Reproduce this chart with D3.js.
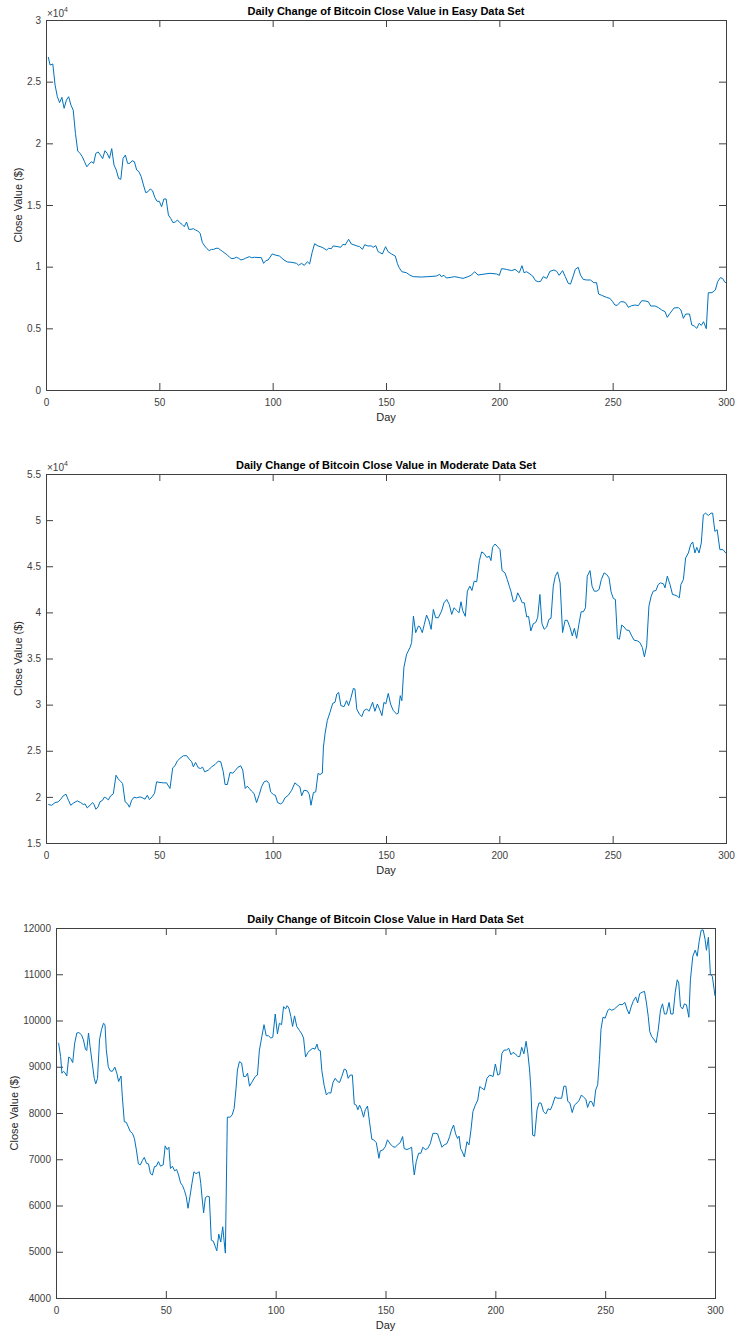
<!DOCTYPE html>
<html lang="en">
<head>
<meta charset="UTF-8">
<title>Daily Change of Bitcoin Close Value</title>
<script src="https://d3js.org/d3.v7.min.js"></script>
<style>
  body { margin: 0; background: #fff; }
  svg text { font-family: "Liberation Sans", Arial, Helvetica, sans-serif; }
  .tick text { fill: #404040; font-size: 10px; }
  .tick line { stroke: #404040; }
  .domain { stroke: none; }
</style>
</head>
<body>
<svg id="chart" width="735" height="1331"></svg>
<script>
// values (day, close value in $)
const dayTicks = [0, 50, 100, 150, 200, 250, 300];

const easyDay = [1,1.8,3,4,5,6,7,8,9,10,11,12,13,14,15,16,17,18,19,20,21,22,23,24,25,26,27,28,29,30,
  31,32,33,34,35,36,37,38,39,40,41,42,43,44,45,46,47,48,49,50,51,52,53,54,55,56,57,58,59,60,
  61,62,63,64,65,66,67,68,69,70,71,72,73,74,75,76,77,78,79,80,81,82,83,84,85,86,87,88,89.7,90.7,
  92,95,96,97,98,99.8,101,103,105,106.5,108.5,110.5,111.5,112.7,114,115.3,116.3,117.4,118.5,120,
  121.8,123.8,124.7,125.9,126.7,128.8,130,131,132,133.5,134.7,136.9,138.4,139.6,140.6,142,143.5,144.3,145.5,146.5,
  147.2,148.4,149.8,150.9,152.4,154.1,155,155.8,157,159,160.5,162,165.6,168.5,172.2,173.7,174.4,175.6,176.6,178.8,
  180.3,182.5,184,186.2,187.7,189.1,190.6,193.7,195.9,198.8,200,201,203.2,205.4,206.9,208.8,210,210.9,212,213.5,
  214.7,216,217.2,218.2,219.4,220.9,222.3,224.1,225.3,226.4,227.9,229.1,230.4,231.4,232.6,233.5,234.8,235.8,237,238.5,
  240.2,241.7,242.9,243.8,245.1,247.3,248.8,250,251,252,253.5,255,255.9,256.9,258.4,259.9,261.3,262.8,264.3,265.7,
  266.8,268.7,270.2,271.6,273.1,274.1,275.3,277.1,279,280.1,281.2,282.2,283.9,284.9,286,287.1,288.2,289.1,290.1,291.3,
  292.2,293.8,295.3,296.3,297.5,298.5,299.4,300];
const easyClose = [27000,26350,26430,24730,23780,23300,23730,22840,23510,23780,23100,22700,20800,19380,19190,18920,18510,18100,18320,18510,
  18380,19190,19300,19050,18760,19400,19190,18780,19570,18240,17840,17160,17080,18780,19050,18380,18380,18590,18510,17840,
  17700,17300,16620,16000,16080,16300,16160,15620,15300,15300,14860,15490,15490,14190,13920,13570,13620,13780,13570,13430,
  13240,13620,13030,13030,13080,12970,12890,12700,11950,11680,11460,11300,11400,11400,11490,11490,11350,11220,11080,10950,
  10760,10650,10680,10760,10680,10540,10590,10680,10810,10730,
  10760,10730,10270,10490,10540,11030,10950,10860,10540,10380,10350,10270,10110,10270,10110,10400,10220,11140,11860,11680,
  11570,11350,11490,11460,11680,11620,11570,11810,11760,12220,11840,11700,11620,11410,11780,11680,11680,11570,11700,11220,
  11160,11030,11620,11220,11030,10860,10270,9920,9590,9510,9320,9190,9160,9190,9240,9380,9190,9300,9080,9140,
  9190,9110,9050,9190,9320,9590,9320,9410,9460,9410,9300,9840,9780,9680,9780,9510,10080,9510,9590,9410,
  9240,8860,8780,8810,9190,9050,9620,9730,9620,9300,9680,9190,8650,8590,9240,9780,9950,9320,8970,8920,
  8920,8700,8700,7780,7680,7510,7430,7160,6890,6860,7160,7140,7030,6700,6840,6890,6840,7240,7220,7160,
  6810,6810,6680,6490,6350,5890,6220,6650,6680,6490,5810,6160,6160,5270,5190,5000,5410,5240,5540,4970,
  7890,7890,8110,8780,9110,9050,8760,8700];

const moderateDay = [1,2.5,4,5.4,6.5,7.6,8.8,9.9,10.9,12,13.8,15.3,16.5,17.2,18.2,19.4,20.6,21.2,22,23,
  23.8,25,25.7,26.5,27.5,28.5,29.7,30.9,31.9,32.9,33.8,34.9,35.9,36.8,37.8,38.8,40,41.5,42.6,43.7,
  44.7,45.6,46.8,47.9,48.8,50.3,51.8,53.2,54.7,55.9,56.9,57.9,59.1,60.6,62.1,63.2,64.3,65,66,67.2,
  68.2,69.1,70,71.6,73.1,74.6,76,77.1,78.2,79,80,81.2,82.4,83.5,84.7,85.9,86.8,87.9,88.8,89.7,
  90.7,91.8,92.9,94.1,95.1,96.2,97.4,98.4,99.1,100.3,101.2,102.2,103.5,104.4,105.4,106.9,108.4,109.8,111,112,
  112.8,113.8,115.3,116.2,116.9,118,119,120,120.9,121.9,122.4,123.1,124.1,125.3,126.5,127.5,128.3,129.1,130.1,131.5,
  132.6,133.5,134.6,135.6,136.3,137.1,138.2,139.3,140.3,141.5,142.5,143.2,144.1,145.1,146.2,147.4,148.2,149.1,149.9,151,
  152,153.2,154.7,155.4,156.3,157,157.9,159.1,160.6,161.3,162.1,163.1,164.3,165,166,166.9,167.9,169,169.9,170.9,
  171.9,173.1,174.5,175.6,176.8,177.9,179,180,181.2,182.2,183.1,183.8,185,185.9,187,187.9,188.9,190,191.2,192.2,
  193.2,194.4,195.6,196.3,197,198.1,199.1,200.3,201.2,202.5,203.5,204.4,205.1,206.2,207.2,208.1,209.1,210.1,211,212.1,
  212.9,213.9,215,216,216.9,217.9,218.8,219.8,220.9,221.9,222.8,223.8,224.7,225.7,226.8,227.9,229,230,231.2,232.2,
  233.1,234.1,235.1,236.1,237.1,238,238.8,240,240.9,241.9,243,244,245,246.2,247.4,248.4,249.3,250.3,251.2,252.1,
  253,254,255,256.2,257.2,258.4,259.5,260.9,262,263.1,264,265,266,267,267.9,269.1,270.1,271.1,272.4,273.1,
  274.1,275.3,276.4,277.5,278.5,279.4,280.1,281.2,282.2,283.4,284.4,285.3,286.3,287.1,288.1,289.1,290,291,292.2,293.4,
  294.1,295.1,296.1,297.3,298.7,300];
const moderateClose = [19170,19090,19380,19460,19750,20110,20290,19640,19090,19310,19570,19380,19170,19240,18800,19090,19380,19170,18660,18910,
  19460,19640,19960,19890,19670,20110,20330,22350,21920,21700,21450,19460,19280,18880,19640,19960,19890,20000,19890,19750,
  20180,19710,20000,20400,21630,21560,21520,21520,20910,23150,23370,23880,24170,24460,24460,24090,23800,23260,23730,23150,
  23080,23220,22720,22900,23260,23510,23880,23800,22720,21340,21340,22650,22570,22860,23220,23370,22900,20910,21160,20910,
  20620,20360,19380,20250,21090,21630,21740,21450,20540,20250,20180,19380,19240,19380,19890,20180,20720,21520,21270,21090,
  20110,20720,20650,20250,19090,20470,20540,22540,22430,22570,25400,26830,28270,29170,30140,30250,31150,31330,29890,29780,
  30430,29890,30790,31760,31690,29530,28990,28700,29350,29530,29280,29710,30250,29280,30070,29350,28810,30250,30070,31220,
  30070,29350,28990,29060,30970,30430,34030,35470,36190,36730,39600,37800,38520,38420,37800,38700,39710,39060,38160,40320,
  39420,39420,40140,41040,41400,40860,39780,40500,40210,39960,41150,40210,39570,42300,42840,42370,43380,43310,45610,46550,
  46400,45970,46080,45610,47050,47410,47160,46800,44530,44280,43560,42840,42300,41150,41300,42120,41650,41040,41040,39500,
  39570,37990,38780,38890,39420,41940,38780,38170,38420,39250,39350,42840,43920,44390,43200,37810,39140,39140,38350,37450,
  38270,37190,38710,40070,40070,40500,43920,44530,42840,42300,42300,42480,43560,44280,44100,43740,42230,41510,41400,37190,
  37090,38630,38420,38060,38060,37450,36980,36910,36730,36190,35180,36370,40680,41760,42300,42370,43020,43200,43090,42660,
  43920,43020,41940,41870,41760,41580,43020,43560,45900,46440,47340,47630,46440,47050,46440,47520,50580,50760,50500,50760,
  50760,48780,48960,46800,46800,46400];

const hardDay = [1,1.2,2.1,2.7,3.4,4.1,4.9,5.8,6.7,7.6,8.5,9.5,10.4,11.6,12.5,13.4,14,14.8,15.5,16.5,
  17.4,18.1,18.9,19.8,20.7,21.6,22.3,22.9,23.8,24.7,25.6,26.8,27.7,28.5,29.6,30.2,31.1,32,32.9,33.8,
  34.8,35.7,36.6,37.5,38.4,39.3,40.2,41.2,42.1,43,43.9,44.8,45.7,46.6,47.6,48.8,49.7,50.6,51.4,52.1,
  53,54,54.9,55.8,56.7,57.6,58.5,59.3,60.1,61,61.9,62.8,63.7,64.6,65.2,65.9,66.6,67.2,68,68.9,
  69.8,70.7,71.6,72.6,73.2,74.1,75,75.9,76.5,77.1,78,79.3,80.2,81.1,81.9,82.6,83.5,84.5,85.4,86.4,
  87.2,88.1,89.1,90.7,91.7,92.6,93.7,94.7,95.7,96.7,97.8,98.7,99.8,100.8,101.7,102.7,103.6,104.5,105.2,106,
  106.9,107.7,108.6,109.6,110.9,111.9,112.7,113.6,114.7,115.7,116.9,117.9,118.8,119.5,120.3,121,122.1,123.1,124.1,125.1,
  126.1,127.1,128.2,129.1,130.1,131.2,132.1,133,133.9,134.9,135.8,136.7,137.4,138.2,139.1,140,140.8,141.8,142.8,143.8,
  144.6,145.8,146.4,147,147.6,148.8,149.9,150.9,152.2,153.4,154.4,155.5,156.7,157.8,158.5,159.8,160.8,161.9,162.5,163.1,
  164,165.1,166.1,167,168.1,169.2,170.4,171.6,172.7,173.7,174.6,175.7,176.7,178,179.2,180,181,181.9,182.8,183.5,
  184.2,185,185.9,187.1,188,188.9,189.8,190.9,192,192.9,193.8,195,196.2,197.4,199,200,201.1,202,203,204,
  205,206.1,207.1,208,209.1,210.2,211.1,212,213,214,214.8,215.6,216.2,217,217.9,219,219.9,220.9,221.9,223,
  224,225.1,226,227.2,228.1,229.3,230.2,231.2,232.1,233,233.9,235,236,237.2,238.1,239.2,240.2,241.2,242,243,
  243.8,244.8,245.7,246.6,247.4,248.1,249,250,251.2,252.1,253,254.2,255.4,256.6,257.7,259,259.9,260.9,261.8,262.7,
  263.9,264.8,265.7,266.8,267.9,268.8,269.6,270.3,271.2,272.1,273.2,274.1,275.2,276.1,277,277.9,279.1,279.9,280.9,281.9,
  282.8,283.5,284.3,285.2,286.1,287,288.1,288.8,289.9,291,291.9,292.8,293.7,294.6,295.5,296.1,297,297.9,298.8,300];
const hardClose = [9520,9510,9220,8860,8900,8870,8800,9210,9180,9090,9510,9730,9740,9690,9580,9380,9350,9730,9440,9080,
  8750,8630,8750,9580,9800,9940,9910,9370,9000,8910,8900,8990,8860,8680,8800,8350,7810,7800,7700,7600,
  7560,7450,7200,6900,6880,6970,7040,6910,6900,6690,6660,6840,6850,6950,6850,6880,7290,7210,7260,6800,
  6850,6750,6780,6660,6490,6430,6320,6190,5940,6200,6480,6730,6690,6710,6730,6480,6120,5840,6170,6200,
  6190,5250,5230,5100,5020,5380,5210,5540,5250,4970,7910,7910,7960,8100,8500,8930,9110,9080,8790,8790,
  8860,8580,8660,8790,8820,9360,9650,9910,9670,9670,9620,9640,10140,9710,9940,9910,10300,10250,10320,10270,
  10090,9870,10100,9870,9780,9710,9620,9210,9310,9360,9400,9380,9490,9360,9350,8920,8590,8390,8440,8430,
  8660,8750,8680,8660,8790,8950,8930,8750,8820,8820,8190,8170,8070,8170,8070,7910,8070,8150,7780,7430,
  7420,7360,7200,7020,7180,7200,7270,7420,7330,7270,7260,7310,7360,7490,7230,7210,7230,7260,6910,6660,
  6950,7130,7130,7260,7210,7230,7340,7560,7560,7550,7420,7260,7310,7340,7490,7630,7740,7550,7450,7500,
  7230,7160,7050,7380,7310,7630,8030,8170,8280,8570,8540,8500,8750,8820,8790,9060,8820,8840,9290,9360,
  9360,9400,9260,9310,9280,9220,9220,9420,9280,9550,9290,8930,8500,7520,7500,8070,8220,8210,8030,7980,
  8090,8070,8170,8350,8320,8320,8320,8580,8580,8250,8220,8010,8170,8220,8270,8390,8340,8300,8120,8250,
  8250,8140,8500,8610,9160,9810,10070,10050,10220,10250,10220,10250,10300,10350,10340,10390,10250,10140,10290,10410,
  10510,10380,10580,10610,10630,10380,10090,9760,9650,9600,9520,9780,10230,10360,10140,10140,10390,10140,10140,10610,
  10880,10810,10300,10250,10360,10340,10070,10880,11390,11520,11390,11710,11950,11960,11750,11520,11800,11010,10950,10530];

const easyTicks = [0, 5000, 10000, 15000, 20000, 25000, 30000];
const moderateTicks = [15000, 20000, 25000, 30000, 35000, 40000, 45000, 50000, 55000];
const hardTicks = [4000, 5000, 6000, 7000, 8000, 9000, 10000, 11000, 12000];

const panels = [
  { title: "Daily Change of Bitcoin Close Value in Easy Data Set", day: easyDay, close: easyClose,
    yTicks: easyTicks, scaled: true, left: 46, right: 726, top: 20, bottom: 390, ylabX: 18 },
  { title: "Daily Change of Bitcoin Close Value in Moderate Data Set", day: moderateDay, close: moderateClose,
    yTicks: moderateTicks, scaled: true, left: 46, right: 726, top: 474, bottom: 843, ylabX: 18 },
  { title: "Daily Change of Bitcoin Close Value in Hard Data Set", day: hardDay, close: hardClose,
    yTicks: hardTicks, scaled: false, left: 56, right: 715, top: 928, bottom: 1298, ylabX: 14 }
];

const svg = d3.select("#chart");
const tickLen = 7;

panels.forEach(p => {
  const w = p.right - p.left, h = p.bottom - p.top;
  const g = svg.append("g").attr("transform", `translate(${p.left},${p.top})`);

  const x = d3.scaleLinear().domain([0, 300]).range([0, w]);
  const y = d3.scaleLinear().domain(d3.extent(p.yTicks)).range([h, 0]);
  const fmt = p.scaled ? (d => d3.format("~g")(d / 1e4)) : d3.format("d");

  g.append("g").attr("transform", `translate(0,${h})`)
    .call(d3.axisBottom(x).tickValues(dayTicks).tickSize(-tickLen).tickSizeOuter(0).tickPadding(9));
  g.append("g")
    .call(d3.axisTop(x).tickValues(dayTicks).tickSize(-tickLen).tickSizeOuter(0).tickFormat(""));
  g.append("g")
    .call(d3.axisLeft(y).tickValues(p.yTicks).tickSize(-tickLen).tickSizeOuter(0).tickPadding(5).tickFormat(fmt));
  g.append("g").attr("transform", `translate(${w},0)`)
    .call(d3.axisRight(y).tickValues(p.yTicks).tickSize(-tickLen).tickSizeOuter(0).tickFormat(""));

  // axes box
  g.append("rect").attr("width", w).attr("height", h)
    .attr("fill", "none").attr("stroke", "#404040").attr("stroke-width", 1)
    .attr("shape-rendering", "crispEdges");

  const line = d3.line().x((d, i) => x(p.day[i])).y(d => y(d));
  g.append("path").datum(p.close)
    .attr("fill", "none").attr("stroke", "#0072BD").attr("stroke-width", 1)
    .attr("stroke-linejoin", "round").attr("d", line);

  g.append("text").attr("x", w / 2).attr("y", -5).attr("text-anchor", "middle")
    .attr("font-size", 11).attr("font-weight", "bold").attr("fill", "#000").text(p.title);

  g.append("text").attr("x", w / 2).attr("y", h + 31).attr("text-anchor", "middle")
    .attr("font-size", 11).attr("fill", "#262626").text("Day");

  svg.append("text")
    .attr("transform", `translate(${p.ylabX},${(p.top + p.bottom) / 2}) rotate(-90)`)
    .attr("text-anchor", "middle").attr("dy", "0.35em")
    .attr("font-size", 11).attr("fill", "#262626").text("Close Value ($)");

  if (p.scaled) {
    const e = g.append("text").attr("x", 1).attr("y", -3).attr("font-size", 10).attr("fill", "#404040");
    e.append("tspan").text("\u00d710");
    e.append("tspan").attr("dy", -5).attr("font-size", 7).text("4");
  }
});
</script>
</body>
</html>
